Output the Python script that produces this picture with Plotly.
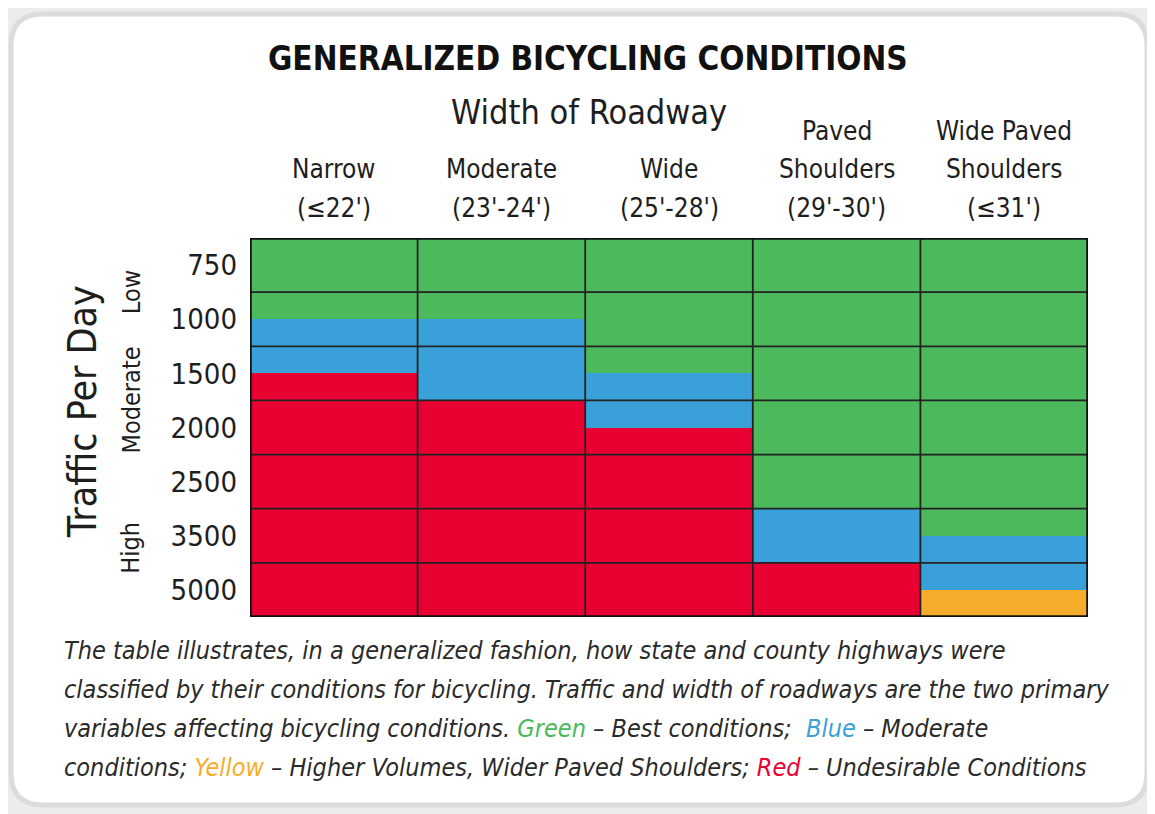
import plotly.graph_objects as go

# ---------------- data ----------------
columns = ["Narrow<br>(≤22')", "Moderate<br>(23'-24')", "Wide<br>(25'-28')",
           "Paved<br>Shoulders<br>(29'-30')", "Wide Paved<br>Shoulders<br>(≤31')"]
traffic = ["750", "1000", "1500", "2000", "2500", "3500", "5000"]
# height of each condition band, measured in traffic rows, top to bottom
green_rows = [1.5, 1.5, 2.5, 5.0, 5.5]
blue_rows = [1.0, 1.5, 1.0, 1.0, 1.0]
red_rows = [4.5, 4.0, 3.5, 1.0, 0.0]
yellow_rows = [0.0, 0.0, 0.0, 0.0, 0.5]
volume_groups = ["Low", "Moderate", "High"]

GREEN = "#4cb95c"
BLUE = "#3aa0da"
RED = "#e90032"
YELLOW = "#f6ad2b"

FONT = "'Liberation Sans Narrow', 'DejaVu Sans Condensed', 'Roboto Condensed', 'Arial Narrow', 'Liberation Sans', sans-serif"
TXT = "#1e1e1e"

# the page body adds an 8px margin; lay out in reference pixels and shift
OX, OY = 8, 8
W, H = 1147, 806


def px(x):
    return (x - OX) / W


def py(y):
    return 1 - (y - OY) / H


xs = list(range(len(columns)))

fig = go.Figure()
for name, vals, col in [("Green", green_rows, GREEN), ("Blue", blue_rows, BLUE),
                        ("Red", red_rows, RED), ("Yellow", yellow_rows, YELLOW)]:
    fig.add_trace(go.Bar(x=xs, y=vals, name=name, marker=dict(color=col, line=dict(width=0)),
                         width=1.0, showlegend=False, hoverinfo="skip"))

nrows = len(traffic)
ncols = len(columns)
shapes = []
# card background
x0p, x1p = px(11), px(1147)
y0p, y1p = py(805), py(14)
rx, ry = 32 / W, 32 / H
path = (f"M {x0p+rx},{y1p} L {x1p-rx},{y1p} Q {x1p},{y1p} {x1p},{y1p-ry} "
        f"L {x1p},{y0p+ry} Q {x1p},{y0p} {x1p-rx},{y0p} L {x0p+rx},{y0p} "
        f"Q {x0p},{y0p} {x0p},{y0p+ry} L {x0p},{y1p-ry} Q {x0p},{y1p} {x0p+rx},{y1p} Z")
shapes.append(dict(type="path", path=path, xref="paper", yref="paper",
                   fillcolor="white", line=dict(color="#dcdcdc", width=5), layer="below"))
# grid lines
for i in range(1, nrows):
    shapes.append(dict(type="line", xref="x", yref="y", x0=-0.5, x1=ncols - 0.5, y0=i, y1=i,
                       line=dict(color="#222222", width=1.8), layer="above"))
for j in range(1, ncols):
    shapes.append(dict(type="line", xref="x", yref="y", x0=j - 0.5, x1=j - 0.5, y0=0, y1=nrows,
                       line=dict(color="#222222", width=1.8), layer="above"))
shapes.append(dict(type="rect", xref="x", yref="y", x0=-0.5, x1=ncols - 0.5, y0=0, y1=nrows,
                   line=dict(color="#111111", width=3.5), layer="above"))

annotations = []
annotations.append(dict(text="<b>GENERALIZED BICYCLING CONDITIONS</b>", x=px(588), y=py(59),
                        xref="paper", yref="paper", showarrow=False,
                        font=dict(family=FONT, size=33, color="#111"), xanchor="center", yanchor="middle"))
annotations.append(dict(text="Width of Roadway", x=px(589), y=py(112),
                        xref="paper", yref="paper", showarrow=False,
                        font=dict(family=FONT, size=34, color=TXT), xanchor="center", yanchor="middle"))
# column headers: one annotation per line, bottom line aligned
for j, c in enumerate(columns):
    lines = c.split("<br>")
    for k, ln in enumerate(reversed(lines)):
        annotations.append(dict(text=ln, x=j, y=py(208 - 38.5 * k), xref="x", yref="paper",
                                showarrow=False, font=dict(family=FONT, size=26, color=TXT),
                                xanchor="center", yanchor="middle"))
group_centres = [1.0, 3.0, 5.72]
for g, yc in zip(volume_groups, group_centres):
    annotations.append(dict(text=g, x=px(131), y=yc, xref="paper", yref="y", showarrow=False,
                            textangle=-90, font=dict(family=FONT, size=25, color=TXT),
                            xanchor="center", yanchor="middle"))
annotations.append(dict(text="Traffic Per Day", x=px(82), y=3.22, xref="paper", yref="y",
                        showarrow=False, textangle=-90, font=dict(family=FONT, size=39, color=TXT),
                        xanchor="center", yanchor="middle"))

caption_lines = [
    "The table illustrates, in a generalized fashion, how state and county highways were",
    "classified by their conditions for bicycling. Traffic and width of roadways are the two primary",
    f"variables affecting bicycling conditions. <span style='color:{GREEN}'>Green</span> – Best conditions;  "
    f"<span style='color:{BLUE}'>Blue</span> – Moderate",
    f"conditions; <span style='color:{YELLOW}'>Yellow</span> – Higher Volumes, Wider Paved Shoulders; "
    f"<span style='color:{RED}'>Red</span> – Undesirable Conditions",
]
for k, line in enumerate(caption_lines):
    annotations.append(dict(text=f"<i>{line}</i>", x=px(62), y=py(650 + 39 * k),
                            xref="paper", yref="paper", showarrow=False,
                            font=dict(family=FONT, size=25, color="#2a2a2a"),
                            xanchor="left", yanchor="middle", align="left"))

fig.update_layout(
    width=W, height=H,
    margin=dict(l=0, r=0, t=0, b=0),
    paper_bgcolor="#ececec", plot_bgcolor="white",
    barmode="stack", bargap=0,
    shapes=shapes, annotations=annotations,
    xaxis=dict(domain=[px(250), px(1088)], range=[-0.5, ncols - 0.5], showticklabels=False,
               showgrid=False, zeroline=False, fixedrange=True),
    yaxis=dict(domain=[py(617), py(238)], range=[nrows, 0], showgrid=False, zeroline=False,
               tickmode="array", tickvals=[i + 0.5 for i in range(nrows)], ticktext=traffic,
               ticks="", ticklabelstandoff=12,
               tickfont=dict(family=FONT, size=29, color=TXT), fixedrange=True),
)

fig.write_html("out.html")
